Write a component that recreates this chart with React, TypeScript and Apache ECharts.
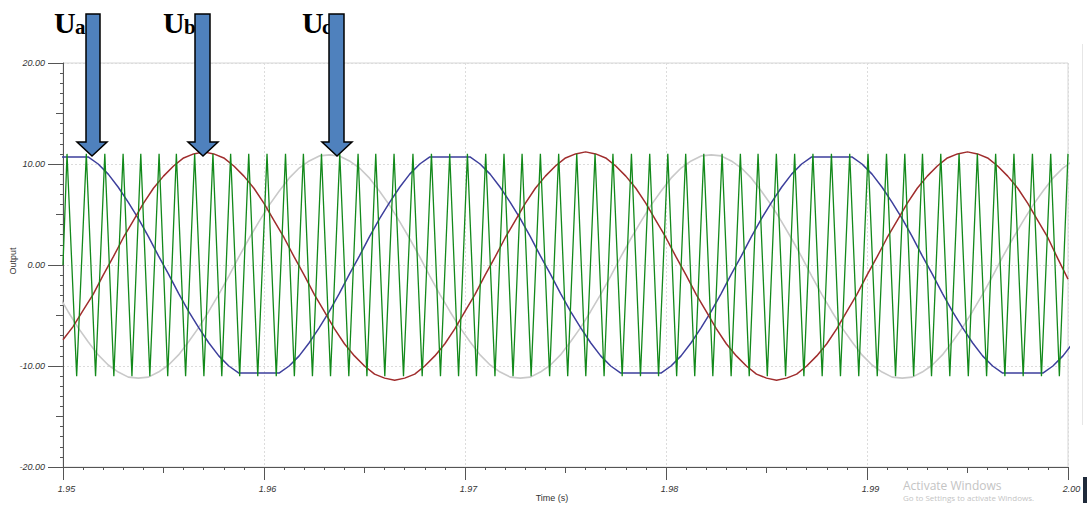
import React, { useEffect, useRef } from "react";
import * as echarts from "echarts";

// ---- Data (time in ms after 1.95 s) ----
const xTickLabels = ["1.95", "1.96", "1.97", "1.98", "1.99", "2.00"];
const yTickLabels = ["-20.00", "-10.00", "0.00", "10.00", "20.00"];

const SAMPLE_STEP_MS = 0.5;

// Ua (blue, flattened top/bottom)
const uaStartMs = -0.25;
const uaValues = [
  10.7,
  10.7, 10.7, 10.7, 10.0, 9.0, 7.7, 6.2, 4.6, 2.8, 0.9, -0.9, -2.8, -4.6, -6.2, -7.7, -9.0, -10.0, -10.7, -10.7,
  -10.7, -10.7, -10.7, -10.0, -9.0, -7.7, -6.2, -4.6, -2.8, -0.9, 0.9, 2.8, 4.6, 6.2, 7.7, 9.0, 10.0, 10.7, 10.7,
  10.7, 10.7, 10.7, 10.0, 9.0, 7.7, 6.2, 4.6, 2.8, 0.9, -0.9, -2.8, -4.6, -6.2, -7.7, -9.0, -10.0, -10.7, -10.7,
  -10.7, -10.7, -10.7, -10.0, -9.0, -7.7, -6.2, -4.6, -2.8, -0.9, 0.9, 2.8, 4.6, 6.2, 7.7, 9.0, 10.0, 10.7, 10.7,
  10.7, 10.7, 10.7, 10.0, 9.0, 7.7, 6.2, 4.6, 2.8, 0.9, -0.9, -2.8, -4.6, -6.2, -7.7, -9.0, -10.0, -10.7, -10.7,
  -10.7, -10.7, -10.7, -10.0, -9.0, -7.7,
];

// Ub (dark red)
const ubStartMs = 0;
const ubValues = [
  -7.4, -6.1, -4.5, -2.9, -1.0, 0.8, 2.7, 4.4, 6.1, 7.6, 8.8, 9.8, 10.6, 11.0,
  11.2, 11.0, 10.6, 9.8, 8.8, 7.6, 6.1, 4.4, 2.7, 0.8, -1.0, -2.9, -4.6, -6.3, -7.8, -9.0, -10.0, -10.8, -11.2,
  -11.4, -11.2, -10.8, -10.0, -9.0, -7.8, -6.3, -4.6, -2.9, -1.0, 0.8, 2.7, 4.4, 6.1, 7.6, 8.8, 9.8, 10.6, 11.0,
  11.2, 11.0, 10.6, 9.8, 8.8, 7.6, 6.1, 4.4, 2.7, 0.8, -1.0, -2.9, -4.6, -6.3, -7.8, -9.0, -10.0, -10.8, -11.2,
  -11.4, -11.2, -10.8, -10.0, -9.0, -7.8, -6.3, -4.6, -2.9, -1.0, 0.8, 2.7, 4.4, 6.1, 7.6, 8.8, 9.8, 10.6, 11.0,
  11.2, 11.0, 10.6, 9.8, 8.8, 7.6, 6.1, 4.4, 2.7, 0.6, -1.4,
];

// Uc (light grey)
const ucStartMs = -0.25;
const ucValues = [
  -2.9, -4.6, -6.2, -7.6, -8.9, -9.9, -10.6, -11.1, -11.2, -11.1, -10.6, -9.9, -8.9, -7.6, -6.2, -4.6, -2.9, -1.1,
  0.8, 2.6, 4.3, 5.9, 7.3, 8.6, 9.6, 10.3, 10.8,
  10.9, 10.8, 10.3, 9.6, 8.6, 7.3, 5.9, 4.3, 2.6, 0.8, -1.1, -2.9, -4.6, -6.2, -7.6, -8.9, -9.9, -10.6, -11.1,
  -11.2, -11.1, -10.6, -9.9, -8.9, -7.6, -6.2, -4.6, -2.9, -1.1, 0.8, 2.6, 4.3, 5.9, 7.3, 8.6, 9.6, 10.3, 10.8,
  10.9, 10.8, 10.3, 9.6, 8.6, 7.3, 5.9, 4.3, 2.6, 0.8, -1.1, -2.9, -4.6, -6.2, -7.6, -8.9, -9.9, -10.6, -11.1,
  -11.2, -11.1, -10.6, -9.9, -8.9, -7.6, -6.2, -4.6, -2.9, -1.1, 0.8, 2.6, 4.3, 5.9, 7.3, 8.6, 9.6, 10.3,
];

// Triangular carrier (green): peak and trough times (ms)
const CARRIER_START = [0, 0.0];
const CARRIER_PEAK = 11.0;
const CARRIER_TROUGH = -11.0;
const carrierPeaksMs = [
  0.2, 1.16, 2.08, 2.99, 3.87, 4.78, 5.64, 6.55, 7.46, 8.34, 9.24, 10.15, 11.07, 11.96, 12.86, 13.77, 14.68,
  15.56, 16.47, 17.41, 18.33, 19.24, 20.12, 21.03, 21.94, 22.84, 23.75, 24.66, 25.56, 26.47, 27.36, 28.28,
  29.19, 30.09, 30.98, 31.88, 32.79, 33.7, 34.58, 35.49, 36.4, 37.31, 38.23, 39.14, 40.05, 40.97, 41.88,
  42.76, 43.67, 44.58, 45.49, 46.4, 47.31, 48.23, 49.14, 50.0,
];
const carrierTroughsMs = [
  0.68, 1.62, 2.53, 3.43, 4.32, 5.21, 6.1, 7.01, 7.9, 8.79, 9.69, 10.61, 11.51, 12.41, 13.31, 14.22, 15.12,
  16.01, 16.94, 17.87, 18.78, 19.68, 20.57, 21.49, 22.39, 23.29, 24.21, 25.11, 26.01, 26.92, 27.82, 28.73,
  29.63, 30.53, 31.43, 32.33, 33.24, 34.14, 35.04, 35.95, 36.86, 37.77, 38.68, 39.59, 40.51, 41.42, 42.32,
  43.21, 44.12, 45.04, 45.95, 46.86, 47.77, 48.68, 49.57,
];

const toPairs = (start: number, values: number[]) =>
  values.map((v, i) => [start + i * SAMPLE_STEP_MS, v]);

const carrierData = [
  CARRIER_START,
  ...carrierPeaksMs.map((t) => [t, CARRIER_PEAK]),
  ...carrierTroughsMs.map((t) => [t, CARRIER_TROUGH]),
].sort((a, b) => a[0] - b[0]);

const AXIS_COLOR = "#555";
const GRID_COLOR = "#dcdcdc";
const LABEL_FONT = "Liberation Sans";

function arrow(x1: number, x2: number, hx1: number, hx2: number, tipX: number) {
  return {
    type: "polygon",
    shape: {
      points: [
        [x1, 14],
        [x2, 14],
        [x2, 142],
        [hx2, 142],
        [tipX, 156],
        [hx1, 142],
        [x1, 142],
      ],
    },
    style: { fill: "#4f81bd", stroke: "#000", lineWidth: 1.5 },
    z: 100,
  };
}

function uLabel(x: number, sub: string, subX: number) {
  return [
    {
      type: "text",
      x,
      y: 22,
      style: {
        text: "U",
        font: 'bold 30px "Liberation Serif"',
        fill: "#000",
        verticalAlign: "middle",
        align: "left",
      },
      z: 90,
    },
    {
      type: "text",
      x: subX,
      y: 27,
      style: {
        text: sub,
        font: 'bold 21px "Liberation Serif"',
        fill: "#000",
        verticalAlign: "middle",
        align: "left",
      },
      z: 90,
    },
  ];
}

export default function App() {
  const ref = useRef<HTMLDivElement>(null);

  useEffect(() => {
    if (!ref.current) return;
    const chart = echarts.init(ref.current, null, { renderer: "svg" });

    const lineBase = {
      type: "line",
      showSymbol: false,
      symbol: "none",
      clip: true,
      xAxisIndex: 0,
      yAxisIndex: 0,
      silent: true,
    };

    const option: any = {
      animation: false,
      backgroundColor: "#fff",
      grid: {
        left: 63,
        right: 19,
        top: 63,
        bottom: 39,
        show: true,
        borderColor: "#d6d6d6",
        borderWidth: 1,
        backgroundColor: "transparent",
      },
      xAxis: [
        {
          type: "value",
          min: 0,
          max: 50,
          interval: 10,
          position: "bottom",
          axisLine: { show: true, onZero: false, lineStyle: { color: AXIS_COLOR, width: 1 } },
          axisTick: { show: true, length: 13, lineStyle: { color: AXIS_COLOR } },
          minorTick: { show: true, splitNumber: 10, length: 3, lineStyle: { color: AXIS_COLOR } },
          axisLabel: {
            formatter: (v: number) => xTickLabels[Math.round(v / 10)],
            fontSize: 9,
            fontStyle: "italic",
            fontFamily: LABEL_FONT,
            color: "#333",
            margin: 17,
            padding: [0, 0, 0, 7],
          },
          splitLine: { show: true, lineStyle: { color: GRID_COLOR, type: [2, 2] } },
          minorSplitLine: { show: false },
        },
        {
          type: "value",
          min: 0,
          max: 50,
          interval: 5,
          position: "bottom",
          axisLine: { show: false, onZero: false },
          axisTick: { show: true, length: 6, lineStyle: { color: AXIS_COLOR } },
          axisLabel: { show: false },
          splitLine: { show: false },
        },
      ],
      yAxis: [
        {
          type: "value",
          min: -20,
          max: 20,
          interval: 10,
          position: "left",
          axisLine: { show: true, onZero: false, lineStyle: { color: AXIS_COLOR, width: 1 } },
          axisTick: { show: true, length: 15, lineStyle: { color: AXIS_COLOR } },
          minorTick: { show: true, splitNumber: 10, length: 3, lineStyle: { color: AXIS_COLOR } },
          axisLabel: {
            formatter: (v: number) => yTickLabels[Math.round((v + 20) / 10)],
            fontSize: 9,
            fontStyle: "italic",
            fontFamily: LABEL_FONT,
            color: "#333",
            margin: 18,
          },
          splitLine: { show: true, lineStyle: { color: GRID_COLOR, type: [2, 2] } },
        },
        {
          type: "value",
          min: -20,
          max: 20,
          interval: 5,
          position: "left",
          axisLine: { show: false, onZero: false },
          axisTick: { show: true, length: 7, lineStyle: { color: AXIS_COLOR } },
          axisLabel: { show: false },
          splitLine: { show: false },
        },
      ],
      series: [
        {
          ...lineBase,
          name: "Uc",
          data: toPairs(ucStartMs, ucValues),
          lineStyle: { color: "#c9c9c9", width: 1.6 },
          z: 2,
        },
        {
          ...lineBase,
          name: "Ua",
          data: toPairs(uaStartMs, uaValues),
          lineStyle: { color: "#3d3f9c", width: 1.5 },
          z: 3,
        },
        {
          ...lineBase,
          name: "Ub",
          data: toPairs(ubStartMs, ubValues),
          lineStyle: { color: "#a02d2d", width: 1.5 },
          z: 4,
        },
        {
          ...lineBase,
          name: "Carrier",
          data: carrierData,
          lineStyle: { color: "#12891a", width: 1.3 },
          z: 5,
        },
      ],
      graphic: [
        {
          type: "text",
          x: 552,
          y: 498,
          style: {
            text: "Time (s)",
            font: '9px "Liberation Sans"',
            fill: "#333",
            align: "center",
            verticalAlign: "middle",
          },
        },
        {
          type: "text",
          x: 13,
          y: 261,
          rotation: Math.PI / 2,
          style: {
            text: "Output",
            font: '9px "Liberation Sans"',
            fill: "#333",
            align: "center",
            verticalAlign: "middle",
          },
        },
        {
          type: "text",
          x: 903,
          y: 485,
          style: {
            text: "Activate Windows",
            font: '12px "Open Sans"',
            fill: "#c4c4c4",
            align: "left",
            verticalAlign: "middle",
          },
        },
        {
          type: "text",
          x: 903,
          y: 497,
          style: {
            text: "Go to Settings to activate Windows.",
            font: '8px "Open Sans"',
            fill: "#c4c4c4",
            align: "left",
            verticalAlign: "middle",
          },
        },
        {
          type: "line",
          shape: { x1: 1082.5, y1: 44, x2: 1082.5, y2: 425 },
          style: { stroke: "#e6e6e6", lineWidth: 1 },
        },
        {
          type: "rect",
          shape: { x: 1083, y: 477, width: 4, height: 26 },
          style: { fill: "#1f2a3a" },
        },
        ...uLabel(54, "a", 75),
        ...uLabel(163, "b", 184),
        ...uLabel(302, "c", 322),
        arrow(86, 100, 77, 107, 92),
        arrow(195, 210, 188, 218, 203),
        arrow(329, 344, 322, 352, 337),
      ],
    };

    chart.setOption(option);
    return () => chart.dispose();
  }, []);

  return (
    <div
      ref={ref}
      style={{ position: "fixed", left: 0, top: 0, width: 1087, height: 506, background: "#fff" }}
    />
  );
}
